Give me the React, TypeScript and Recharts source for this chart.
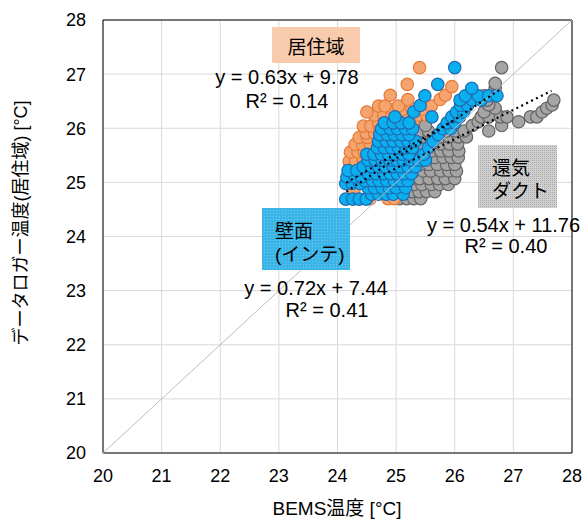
import React from "react";
import { ScatterChart, Scatter, XAxis, YAxis, CartesianGrid, ReferenceLine } from "recharts";

const ticks = [20, 21, 22, 23, 24, 25, 26, 27, 28];

// each row: [y, x values read at that y]
const livingRows: [number, number[]][] = [
  [24.7, [24.56, 24.86, 24.97]],
  [24.86, [24.28, 24.62]],
  [25.02, [24.46, 24.72, 24.93]],
  [25.14, [24.58, 24.81]],
  [25.31, [24.21, 24.34]],
  [25.39, [24.2, 24.31, 24.44]],
  [25.56, [24.22, 24.35, 24.46]],
  [25.7, [24.3, 24.43, 24.56]],
  [25.83, [24.37, 24.51]],
  [25.91, [24.49, 24.63]],
  [26.04, [24.44, 24.57, 24.71, 24.91]],
  [26.12, [24.7, 24.84, 25.14, 25.29]],
  [26.24, [24.63, 24.79, 24.93, 25.06, 25.21, 25.36, 25.52]],
  [26.3, [24.5]],
  [26.35, [24.96, 25.11, 25.27, 25.46]],
  [26.41, [24.7, 24.81, 25.04, 25.6]],
  [26.53, [25.2, 25.75]],
  [26.61, [24.9, 25.84]],
  [26.77, [25.95]],
  [26.81, [25.19]],
  [27.12, [25.4]],
];

const ductRows: [number, number[]][] = [
  [24.7, [25.06, 25.18, 25.3, 25.42]],
  [24.83, [24.91, 25.03, 25.15, 25.27, 25.39, 25.52, 25.66]],
  [24.96, [25.0, 25.14, 25.31, 25.44, 25.6, 25.74, 25.89]],
  [25.07, [25.1, 25.26, 25.4, 25.56, 25.71, 25.84, 26.0]],
  [25.21, [25.31, 25.46, 25.59, 25.76, 25.9, 26.03]],
  [25.33, [25.41, 25.56, 25.7, 25.86, 26.0]],
  [25.46, [25.51, 25.66, 25.8, 25.94, 26.06]],
  [25.58, [25.45, 25.61, 25.76, 25.9, 26.07]],
  [25.71, [25.44, 25.6, 25.76, 25.91, 26.05]],
  [25.84, [25.45, 25.6, 25.76, 25.9, 26.06, 26.2]],
  [25.95, [25.4, 25.55, 25.86, 26.0, 26.16, 26.58]],
  [26.05, [25.5, 26.3, 26.8]],
  [26.12, [26.4, 27.09]],
  [26.21, [26.45, 26.58, 26.78, 26.89, 27.29, 27.4]],
  [26.3, [26.5, 27.49]],
  [26.37, [26.69, 27.57]],
  [26.43, [26.58, 27.66]],
  [26.52, [26.55, 27.69]],
  [26.6, [26.5]],
  [26.74, [26.69]],
  [26.83, [26.69]],
  [27.12, [26.8]],
];

const wallRows: [number, number[]][] = [
  [24.69, [24.14, 24.26, 24.37, 24.49]],
  [24.78, [24.58, 24.7, 24.83, 24.95, 25.12]],
  [24.9, [24.52, 24.63, 24.76, 24.88, 25.0, 25.16]],
  [24.98, [24.14, 24.25, 24.38]],
  [25.03, [24.47, 24.6, 24.71, 24.84, 24.97, 25.08, 25.2]],
  [25.1, [24.16, 24.3, 24.41]],
  [25.16, [24.53, 24.66, 24.79, 24.9, 25.02, 25.14, 25.26]],
  [25.22, [24.18, 24.33]],
  [25.29, [24.44, 24.58, 24.7, 24.82, 24.95, 25.07, 25.2, 25.33]],
  [25.41, [24.52, 24.64, 24.76, 24.89, 25.01, 25.12, 25.25, 25.38, 25.5]],
  [25.52, [24.5, 24.62, 24.75, 24.87, 24.99, 25.1, 25.22, 25.47]],
  [25.64, [24.68, 24.8, 24.92, 25.04, 25.17, 25.28, 25.55]],
  [25.76, [24.7, 24.83, 24.95, 25.08, 25.2, 25.33, 25.63]],
  [25.88, [24.72, 24.85, 24.97, 25.1, 25.22, 25.72]],
  [25.99, [24.75, 24.9, 25.02, 25.16, 25.28, 25.8, 25.93]],
  [26.1, [24.8, 24.95, 25.08, 25.22, 25.87, 26.0]],
  [26.21, [24.98, 25.61, 25.95, 26.08]],
  [26.3, [25.3, 26.03, 26.15]],
  [26.42, [25.41, 26.1, 26.22]],
  [26.52, [26.09, 26.3, 26.45]],
  [26.6, [25.49, 26.18, 26.4, 26.58, 26.72]],
  [26.74, [26.29]],
  [26.81, [25.71]],
  [27.12, [26.0]],
];

// fitted lines shown in the chart: slope, intercept, x range
const trendSlopes = [0.63, 0.72, 0.54];
const trendIntercepts = [9.78, 7.44, 11.76];
const trendFrom = [24.15, 24.15, 24.7];
const trendTo = [25.95, 26.75, 27.65];

const diagonal = [{ x: 20, y: 20 }, { x: 28, y: 28 }];

const toPoints = (rows: [number, number[]][]) =>
  rows.flatMap(([y, xs]) => xs.map((x) => ({ x, y })));

const livingData = toPoints(livingRows);
const wallData = toPoints(wallRows);
const ductData = toPoints(ductRows);

const trendData = trendSlopes.map((m, i) => [
  { x: trendFrom[i], y: m * trendFrom[i] + trendIntercepts[i] },
  { x: trendTo[i], y: m * trendTo[i] + trendIntercepts[i] },
]);

const latin = "'Liberation Sans', Arial, 'Noto Sans CJK JP', sans-serif";

const dot = (fill: string, stroke: string) => (props: any) =>
  <circle cx={props.cx} cy={props.cy} r={6.2} fill={fill} stroke={stroke} strokeWidth={1.2} />;

const noDot = () => <g />;

const App: React.FC = () => {
  return (
    <div style={{ position: "absolute", left: 0, top: 0, width: 588, height: 519, background: "#fff" }}>
      <ScatterChart width={588} height={519} margin={{ top: 20, right: 16, bottom: 0, left: 0 }}>
        <CartesianGrid stroke="#d9d9d9" strokeWidth={1} />
        <XAxis
          type="number"
          dataKey="x"
          domain={[20, 28]}
          ticks={ticks}
          height={66}
          tickLine={false}
          tickMargin={10}
          axisLine={{ stroke: "#000" }}
          tick={{ fill: "#000", fontSize: 18, fontFamily: latin }}
        />
        <YAxis
          type="number"
          dataKey="y"
          domain={[20, 28]}
          ticks={ticks}
          width={103}
          tickLine={false}
          tickMargin={11}
          axisLine={{ stroke: "#000" }}
          tick={{ fill: "#000", fontSize: 18, fontFamily: latin }}
        />
        <ReferenceLine x={28} stroke="#000" />
        <ReferenceLine y={28} stroke="#000" />
        <Scatter data={ductData} shape={dot("#a5a5a5", "#636363")} isAnimationActive={false} />
        <Scatter data={livingData} shape={dot("#f4a46c", "#e5793a")} isAnimationActive={false} />
        <Scatter data={wallData} shape={dot("#0aafef", "#2169b2")} isAnimationActive={false} />
        <Scatter
          data={diagonal}
          line={{ stroke: "#bdbdbd", strokeWidth: 1 }}
          shape={noDot}
          isAnimationActive={false}
        />
        {trendData.map((seg, i) => (
          <Scatter
            key={i}
            data={seg}
            line={{ stroke: "#000", strokeWidth: 2.2, strokeDasharray: "2 3.5" }}
            shape={noDot}
            isAnimationActive={false}
          />
        ))}
      </ScatterChart>
      <svg width={588} height={519} style={{ position: "absolute", left: 0, top: 0, pointerEvents: "none" }}>
        <defs>
          <pattern id="bluePat" width="3" height="3" patternUnits="userSpaceOnUse">
            <rect width="3" height="3" fill="#3bb4e8" />
            <rect width="1" height="1" fill="#6cc9f0" />
          </pattern>
          <pattern id="grayPat" width="2" height="2" patternUnits="userSpaceOnUse">
            <rect width="2" height="2" fill="#d0d0d0" />
            <rect width="1" height="1" fill="#a9a9a9" />
          </pattern>
        </defs>
        <g fontFamily={latin} fill="#000">
          <rect x={272} y={27} width={88} height={36} fill="#f8cbad" />
          <text x={316} y={54} fontSize={19} textAnchor="middle">居住域</text>
          <text x={287} y={84} fontSize={20} textAnchor="middle">y = 0.63x + 9.78</text>
          <text x={287} y={108} fontSize={20} textAnchor="middle">R² = 0.14</text>

          <rect x={262} y={208} width={88} height={62} fill="url(#bluePat)" />
          <text x={275} y={238} fontSize={19}>壁面</text>
          <text x={275} y={261} fontSize={19}>(インテ)</text>
          <text x={316} y={295} fontSize={20} textAnchor="middle">y = 0.72x + 7.44</text>
          <text x={327} y={317} fontSize={20} textAnchor="middle">R² = 0.41</text>

          <rect x={478} y={145} width={79} height={63} fill="url(#grayPat)" />
          <text x={492} y={175} fontSize={19}>還気</text>
          <text x={492} y={198} fontSize={19}>ダクト</text>
          <text x={427} y={232} fontSize={20}>y = 0.54x + 11.76</text>
          <text x={506} y={253} fontSize={20} textAnchor="middle">R² = 0.40</text>

          <text x={337} y={515} fontSize={19} textAnchor="middle">BEMS温度 [°C]</text>
          <text transform="translate(27, 223) rotate(-90)" fontSize={18} textAnchor="middle">
            データロガー温度(居住域) [°C]
          </text>
        </g>
      </svg>
    </div>
  );
};

export default App;
